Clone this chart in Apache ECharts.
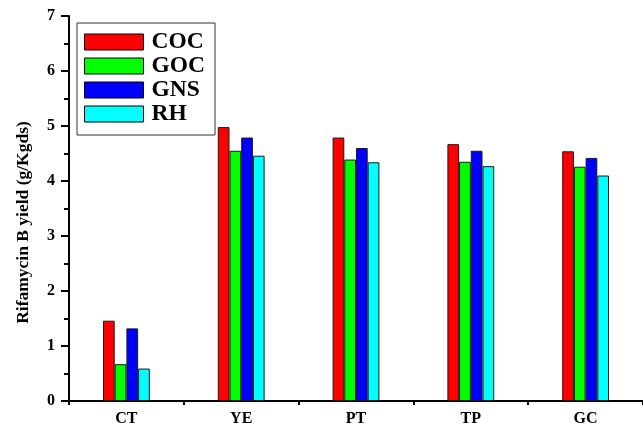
<!DOCTYPE html>
<html>
<head>
<meta charset="utf-8">
<script src="https://cdn.jsdelivr.net/npm/echarts@6/dist/echarts.min.js"></script>
<style>
html,body{margin:0;padding:0;background:#fff;}
#chart{width:643px;height:428px;}
</style>
</head>
<body>
<div id="chart"></div>
<script>
var categories = ['CT', 'YE', 'PT', 'TP', 'GC'];
var seriesNames = ['COC', 'GOC', 'GNS', 'RH'];
var cocValues = [1.46, 4.98, 4.79, 4.67, 4.54];
var gocValues = [0.67, 4.55, 4.39, 4.35, 4.26];
var gnsValues = [1.32, 4.79, 4.60, 4.55, 4.42];
var rhValues  = [0.59, 4.46, 4.34, 4.27, 4.10];
var yTicks = [0, 1, 2, 3, 4, 5, 6, 7];
var colors = ['#ff0000', '#00ff00', '#0000ff', '#00ffff'];
var allValues = [cocValues, gocValues, gnsValues, rhValues];

var font = '"Liberation Serif", "Times New Roman", serif';
var chart = echarts.init(document.getElementById('chart'), null, {renderer: 'canvas'});

var series = seriesNames.map(function (name, i) {
  return {
    name: name,
    type: 'bar',
    data: allValues[i],
    barWidth: 11.7,
    barGap: '0%',
    itemStyle: {color: colors[i], borderColor: '#1a1a1a', borderWidth: 1},
    xAxisIndex: 0
  };
});

chart.setOption({
  animation: false,
  backgroundColor: '#fff',
  color: colors,
  grid: {left: 69, top: 16, bottom: 27, right: -8.5, containLabel: false},
  legend: {
    orient: 'vertical',
    left: 77,
    top: 23,
    padding: [7, 10, 9, 7],
    borderColor: '#333',
    borderWidth: 1,
    itemWidth: 59,
    itemHeight: 16,
    itemGap: 0,
    icon: 'rect',
    itemStyle: {borderColor: '#000', borderWidth: 1},
    textStyle: {fontFamily: font, fontWeight: 'bold', fontSize: 23.5, color: '#000', padding: [0, 0, 0, 3]},
    data: seriesNames
  },
  xAxis: [
    {
      type: 'category',
      data: categories,
      position: 'bottom',
      axisLine: {lineStyle: {color: '#000', width: 2}},
      axisTick: {alignWithLabel: true, length: 7, lineStyle: {color: '#000', width: 2}},
      axisLabel: {fontFamily: font, fontWeight: 'bold', fontSize: 16, color: '#000', margin: 10},
      splitLine: {show: false}
    },
    {
      type: 'category',
      data: categories,
      position: 'bottom',
      axisLine: {show: false},
      axisTick: {show: true, length: 4, lineStyle: {color: '#000', width: 2}},
      axisLabel: {show: false},
      splitLine: {show: false}
    }
  ],
  yAxis: {
    type: 'value',
    min: yTicks[0],
    max: yTicks[yTicks.length - 1],
    interval: 1,
    name: 'Rifamycin B yield (g/Kgds)',
    nameLocation: 'middle',
    nameGap: 37,
    nameTextStyle: {fontFamily: font, fontWeight: 'bold', fontSize: 17.5, color: '#000', padding: [0, 28, 0, 0]},
    axisLine: {show: true, lineStyle: {color: '#000', width: 2}},
    axisTick: {show: true, length: 8, lineStyle: {color: '#000', width: 2}},
    minorTick: {show: true, splitNumber: 2, length: 5, lineStyle: {color: '#000', width: 2}},
    axisLabel: {fontFamily: font, fontWeight: 'bold', fontSize: 16, color: '#000', margin: 14},
    splitLine: {show: false}
  },
  series: series
});
</script>
</body>
</html>
